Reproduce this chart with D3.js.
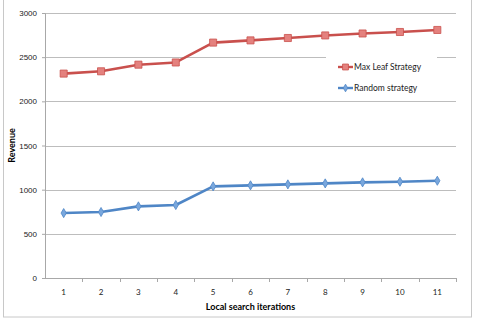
<!DOCTYPE html>
<html>
<head>
<meta charset="utf-8">
<script src="https://cdn.jsdelivr.net/npm/d3@7"></script>
<style>
  body { margin: 0; background: #fff; }
  svg { display: block; font-family: Lato, "Open Sans", sans-serif; }
</style>
</head>
<body>
<svg id="chart"></svg>
<script>
// data
var iterations = [1, 2, 3, 4, 5, 6, 7, 8, 9, 10, 11];
var maxLeaf = [2314, 2340, 2415, 2440, 2665, 2690, 2717, 2746, 2768, 2785, 2808];
var randomStrategy = [735, 747, 811, 826, 1037, 1049, 1060, 1071, 1083, 1090, 1101];
var yTicks = [0, 500, 1000, 1500, 2000, 2500, 3000];

var series = [
    {name: "Max Leaf Strategy", values: maxLeaf, color: "#c9504d", fill: "#e4817e", shape: d3.symbolSquare, size: 50},
    {name: "Random strategy", values: randomStrategy, color: "#4f86c6", fill: "#79a7dd", shape: d3.symbolDiamond, size: 24}
];

var screen = {width: 485, height: 326};
var margins = {top: 13, left: 45, right: 29, bottom: 48};
var graph = {
    width: screen.width - margins.left - margins.right,
    height: screen.height - margins.top - margins.bottom
};

var svg = d3.select("#chart")
    .attr("width", screen.width)
    .attr("height", screen.height);

// outer frame
svg.append("rect")
    .attr("x", 3.5).attr("y", -2)
    .attr("width", 468).attr("height", 319)
    .attr("fill", "none")
    .attr("stroke", "#c8c8c8");

var xScale = d3.scaleBand()
    .domain(iterations)
    .range([0, graph.width]);

var yScale = d3.scaleLinear()
    .domain([0, 3000])
    .range([graph.height, 0]);

var g = svg.append("g")
    .attr("transform", "translate(" + margins.left + "," + margins.top + ")");

// gridlines
g.selectAll(".grid")
    .data(yTicks.filter(function(d) { return d > 0; }))
    .enter()
    .append("line")
    .attr("x1", 0)
    .attr("x2", graph.width)
    .attr("y1", function(d) { return Math.round(yScale(d)) + 0.5; })
    .attr("y2", function(d) { return Math.round(yScale(d)) + 0.5; })
    .attr("stroke", "#bdbdbd");

// y axis
var yAxis = d3.axisLeft(yScale).tickValues(yTicks).tickFormat(d3.format("d")).tickSize(3).tickPadding(5);
var yg = g.append("g").call(yAxis);
yg.select(".domain").attr("stroke", "#a8a8a8");
yg.selectAll(".tick line").attr("stroke", "#a8a8a8");
yg.selectAll("text").attr("font-size", 8).attr("fill", "#222");

// x axis with ticks between categories
var xg = g.append("g").attr("transform", "translate(0," + graph.height + ")");
xg.append("line")
    .attr("x1", 0).attr("x2", graph.width)
    .attr("y1", 0.5).attr("y2", 0.5)
    .attr("stroke", "#a8a8a8");
xg.selectAll(".xtick")
    .data(iterations)
    .enter()
    .append("line")
    .attr("x1", function(d) { return Math.round(xScale(d) + xScale.bandwidth()) + 0.5; })
    .attr("x2", function(d) { return Math.round(xScale(d) + xScale.bandwidth()) + 0.5; })
    .attr("y1", 0).attr("y2", 4)
    .attr("stroke", "#a8a8a8");
xg.selectAll(".xlabel")
    .data(iterations)
    .enter()
    .append("text")
    .attr("x", function(d) { return xScale(d) + xScale.bandwidth() / 2; })
    .attr("y", 17)
    .attr("text-anchor", "middle")
    .attr("font-size", 8)
    .attr("fill", "#222")
    .text(function(d) { return d; });

// axis titles
svg.append("text")
    .attr("x", margins.left + graph.width / 2)
    .attr("y", 310)
    .attr("text-anchor", "middle")
    .attr("font-size", 9)
    .attr("font-weight", "bold")
    .text("Local search iterations");

svg.append("text")
    .attr("transform", "translate(15," + (margins.top + graph.height / 2) + ") rotate(-90)")
    .attr("text-anchor", "middle")
    .attr("font-size", 9)
    .attr("font-weight", "bold")
    .text("Revenue");

var line = d3.line()
    .x(function(d, i) { return xScale(iterations[i]) + xScale.bandwidth() / 2; })
    .y(function(d) { return yScale(d); });

// lines and markers
series.forEach(function(s) {
    g.append("path")
        .datum(s.values)
        .attr("d", line)
        .attr("fill", "none")
        .attr("stroke", s.color)
        .attr("stroke-width", 2.6)
        .attr("stroke-linejoin", "round");

    g.selectAll(null)
        .data(s.values)
        .enter()
        .append("path")
        .attr("d", d3.symbol().type(s.shape).size(s.size))
        .attr("transform", function(d, i) {
            return "translate(" + (xScale(iterations[i]) + xScale.bandwidth() / 2) + "," + yScale(d) + ")";
        })
        .attr("fill", s.fill)
        .attr("stroke", s.color)
        .attr("stroke-width", 0.8);
});

// legend with white background over the gridline
var legend = svg.append("g");
legend.append("rect")
    .attr("x", 326).attr("y", 54)
    .attr("width", 111).attr("height", 42)
    .attr("fill", "#fff");

var items = legend.selectAll(".item")
    .data(series)
    .enter()
    .append("g")
    .attr("transform", function(d, i) { return "translate(338," + (67 + i * 21) + ")"; });
items.append("line")
    .attr("x1", 0).attr("x2", 15)
    .attr("stroke", function(d) { return d.color; })
    .attr("stroke-width", 2.4);
items.append("path")
    .attr("transform", "translate(7.5,0)")
    .attr("d", function(d) { return d3.symbol().type(d.shape).size(d.size * 0.7)(); })
    .attr("fill", function(d) { return d.fill; })
    .attr("stroke", function(d) { return d.color; })
    .attr("stroke-width", 0.8);
items.append("text")
    .attr("x", 16)
    .attr("y", 3)
    .attr("font-size", 8.5)
    .attr("fill", "#222")
    .text(function(d) { return d.name; });
</script>
</body>
</html>
